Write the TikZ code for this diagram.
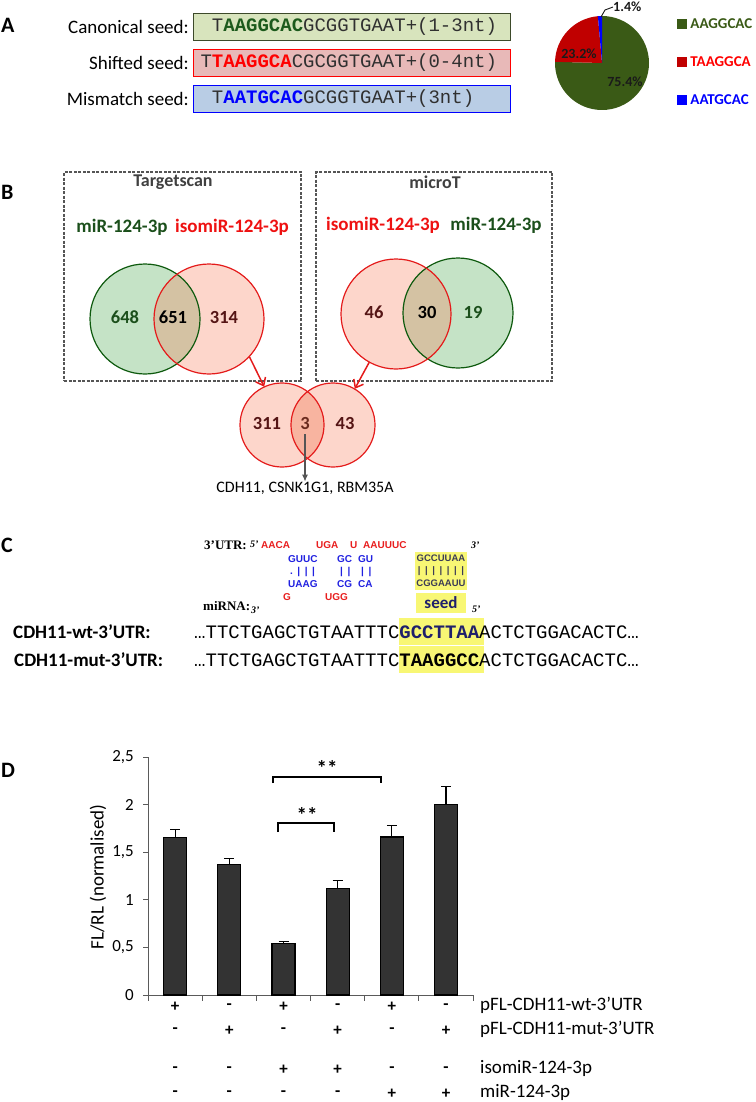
\documentclass[tikz,border=0pt]{standalone}
\usepackage{fontspec}
\setmainfont{Carlito}
\newfontfamily\seqfont{Liberation Mono}
\newfontfamily\rnafont{Liberation Sans}
\newfontfamily\utrfont{Liberation Serif}
\usetikzlibrary{arrows.meta,positioning}
\newcommand{\setfs}[1]{\fontsize{#1}{#1}\selectfont}
\definecolor{ink}{HTML}{1A1A1A}
\definecolor{seqgray}{HTML}{303030}
\definecolor{canfill}{HTML}{D8E4BD}
\definecolor{canline}{HTML}{3D4A2A}
\definecolor{seedgreen}{HTML}{1C5A1C}
\definecolor{shiftfill}{HTML}{E8B9B8}
\definecolor{mmfill}{HTML}{B9CDE5}
\definecolor{piegreen}{HTML}{3A5A16}
\definecolor{piered}{HTML}{C00000}
\definecolor{pieblue}{HTML}{0000FF}
\definecolor{vgfill}{HTML}{C5E3C6}
\definecolor{vgline}{HTML}{0E5A0E}
\definecolor{vrfill}{HTML}{FDD6CB}
\definecolor{vrline}{HTML}{E41B1B}
\definecolor{vmix}{HTML}{D4C2A3}
\definecolor{vrmix}{HTML}{F8B4A0}
\definecolor{numgreen}{HTML}{1B4F1B}
\definecolor{numred}{HTML}{551515}
\definecolor{isored}{HTML}{EE1111}
\definecolor{titlegray}{HTML}{404040}
\definecolor{dashgray}{HTML}{555555}
\definecolor{arrowgray}{HTML}{555555}
\definecolor{seedyellow}{HTML}{F8F774}
\definecolor{navy}{HTML}{1F1F6B}
\definecolor{duplexgray}{HTML}{3C3C55}
\definecolor{rnared}{HTML}{E81E1E}
\definecolor{rnablue}{HTML}{2020E0}
\definecolor{barfill}{HTML}{333333}
\definecolor{axisgray}{HTML}{5A5A5A}

\begin{document}
\begin{tikzpicture}[x=1pt, y=-1pt, >=Latex,
  every node/.style={inner sep=0pt},
  panel/.style={font=\bfseries\setfs{22}, anchor=west},
  rowlabel/.style={font=\setfs{19}, anchor=east},
  seqbox/.style={rectangle, anchor=west, minimum height=27pt, text width=303pt,
    inner xsep=7pt, align=left, line width=1.1pt, font=\seqfont\setfs{19}, text=seqgray},
  legsq/.style={rectangle, minimum size=10pt},
  legtxt/.style={anchor=west, font=\bfseries\setfs{15}},
  pielab/.style={font=\bfseries\setfs{14}, text=ink},
  dashbox/.style={draw=dashgray, dash pattern=on 3pt off 1.5pt, line width=1.1pt},
  boxtitle/.style={font=\bfseries\setfs{18}, text=titlegray},
  mirlab/.style={font=\bfseries\setfs{19}, text=numgreen},
  isolab/.style={font=\bfseries\setfs{19}, text=isored},
  vnum/.style={font=\bfseries\setfs{18.5}},
  greenset/.style={circle, minimum size=110pt, fill=vgfill},
  redset/.style={circle, minimum size=110pt, fill=vrfill},
  smallset/.style={circle, minimum size=84pt, fill=vrfill},
  redarrow/.style={-{Straight Barb[length=7pt,width=11pt]}, draw=vrline, line width=1.5pt},
  grayarrow/.style={-{Latex[length=7pt,width=6pt]}, draw=arrowgray, line width=1.1pt},
  utr/.style={anchor=west, font=\utrfont\bfseries\setfs{13}},
  prime/.style={anchor=west, font=\utrfont\bfseries\itshape\setfs{10}},
  rnaR/.style={anchor=west, font=\rnafont\bfseries\setfs{10}, text=rnared},
  rnaB/.style={anchor=west, font=\rnafont\bfseries\setfs{10}, text=rnablue},
  duplex/.style={font=\rnafont\bfseries\setfs{9.5}, text=duplexgray},
  seqlab/.style={anchor=west, font=\bfseries\setfs{19}},
  seqline/.style={anchor=west, font=\seqfont\setfs{19}},
  hilite/.style={fill=seedyellow, minimum width=85pt, minimum height=27pt},
  bar/.style={fill=barfill, draw=black, line width=1.1pt},
  errbar/.style={draw=black, line width=1.1pt},
  bracket/.style={draw=black, line width=2.4pt},
  stars/.style={font=\bfseries\setfs{21}},
  sign/.style={font=\bfseries\setfs{17}},
  condlab/.style={anchor=west, font=\setfs{19}}]
\useasboundingbox (0,0) rectangle (755,1102);

% panel A
\node[panel] (labA) at (1,25) {A};
\node[rowlabel] (canLab) at (189,27) {Canonical seed:};
\node[rowlabel] (shiftLab) at (189,63) {Shifted seed:};
\node[rowlabel] (mmLab) at (189,99) {Mismatch seed:};
\node[seqbox, draw=canline, fill=canfill] (canSeq) at (193,27)
  {\hspace*{11.4pt}T\textbf{\color{seedgreen}AAGGCAC}GCGGTGAAT+(1-3nt)};
\node[seqbox, draw=red, fill=shiftfill] (shiftSeq) at (193,63)
  {T\textbf{\color{red}TAAGGCA}CGCGGTGAAT+(0-4nt)};
\node[seqbox, draw=blue, fill=mmfill] (mmSeq) at (193,99)
  {\hspace*{11.4pt}T\textbf{\color{blue}AATGCAC}GCGGTGAAT+(3nt)};

\begin{scope}[shift={(602,63)}, y=1pt]
  \fill[piegreen] (0,0) -- (90:47pt) arc[start angle=90, end angle=-181.44, radius=47pt] -- cycle;
  \fill[piered] (0,0) -- (178.56:47pt) arc[start angle=178.56, end angle=95.04, radius=47pt] -- cycle;
  \fill[pieblue] (0,0) -- (95.04:47pt) arc[start angle=95.04, end angle=90, radius=47pt] -- cycle;
\end{scope}
\node[pielab] (p754) at (625,82) {75.4\%};
\node[pielab] (p232) at (579,54) {23.2\%};
\node[pielab, anchor=west] (p14) at (613,7) {1.4\%};
\coordinate (pieTop) at (601,17);
\draw[ink, line width=0.9pt] (pieTop) -- (605,10) -- (p14.west);

\node[legsq, fill=piegreen] (sqG) at (682,24) {};
\node[legtxt, text=piegreen, right=3pt of sqG] (legG) {AAGGCAC};
\node[legsq, fill=piered] (sqR) at (682,62) {};
\node[legtxt, text=red, right=3pt of sqR] (legR) {TAAGGCA};
\node[legsq, fill=pieblue] (sqB) at (682,100) {};
\node[legtxt, text=blue, right=3pt of sqB] (legB) {AATGCAC};

% panel B
\node[panel] (labB) at (1,192) {B};
\node[dashbox, minimum width=237pt, minimum height=209pt] (tsBox) at (182.5,276.5) {};
\node[dashbox, minimum width=236pt, minimum height=209pt] (mtBox) at (434,276.5) {};
\node[boxtitle] (tsTitle) at (173,182) {Targetscan};
\node[boxtitle] (mtTitle) at (435,182) {microT};
\node[mirlab] (tsMirLab) at (122,227) {miR-124-3p};
\node[isolab] (tsIsoLab) at (232,227) {isomiR-124-3p};
\node[isolab] (mtIsoLab) at (383,225) {isomiR-124-3p};
\node[mirlab] (mtMirLab) at (496,225) {miR-124-3p};

\node[greenset] (tsMir) at (145,319) {};
\node[redset] (tsIso) at (209,319) {};
\begin{scope}
  \clip (145,319) circle[radius=55pt];
  \fill[vmix] (209,319) circle[radius=55pt];
\end{scope}
\draw[vgline, line width=1.2pt] (tsMir.center) circle[radius=55pt];
\draw[vrline, line width=1.2pt] (tsIso.center) circle[radius=55pt];

\node[redset] (mtIso) at (396,314) {};
\node[greenset] (mtMir) at (458,313) {};
\begin{scope}
  \clip (458,313) circle[radius=55pt];
  \fill[vmix] (396,314) circle[radius=55pt];
\end{scope}
\draw[vgline, line width=1.2pt] (mtMir.center) circle[radius=55pt];
\draw[vrline, line width=1.2pt] (mtIso.center) circle[radius=55pt];

\node[vnum, text=numgreen] (n648) at (125,317) {648};
\node[vnum, text=black] (n651) at (173,317) {651};
\node[vnum, text=numred] (n314) at (224,317) {314};
\node[vnum, text=numred] (n46) at (374,312) {46};
\node[vnum, text=black] (n30) at (427,312) {30};
\node[vnum, text=numgreen] (n19) at (473,312) {19};

\node[smallset] (botL) at (282,425) {};
\node[smallset] (botR) at (333,425) {};
\begin{scope}
  \clip (282,425) circle[radius=42pt];
  \fill[vrmix] (333,425) circle[radius=42pt];
\end{scope}
\draw[vrline, line width=1.2pt] (botL.center) circle[radius=42pt];
\draw[vrline, line width=1.2pt] (botR.center) circle[radius=42pt];
\node[vnum, text=numred] (n311) at (267,423) {311};
\node[vnum, text=numred!80!brown] (n3) at (305,423) {3};
\node[vnum, text=numred] (n43) at (345,423) {43};

\draw[redarrow] (tsIso.-43) -- (botL.115);
\draw[redarrow] (mtIso.-119) -- (botR.59);
\node[font=\setfs{16}] (genes) at (305,488) {CDH11, CSNK1G1, RBM35A};
\draw[grayarrow] (n3.south) ++(0,5) coordinate (n3foot) (n3foot) -- (genes.north);

% panel C
\node[panel] (labC) at (1,545) {C};
\node[utr] (utrLab) at (204,545) {3’UTR:};
\node[prime] (utr5) at (250,544) {5’};
\node[rnaR] (r1a) at (261,545) {AACA};
\node[rnaR] (r1b) at (316,545) {UGA};
\node[rnaR] (r1c) at (350,545) {U};
\node[rnaR] (r1d) at (363,545) {AAUUUC};
\node[rnaB] (b2a) at (288,559) {GUUC};
\node[rnaB] (b2b) at (337,559) {GC};
\node[rnaB] (b2c) at (358,559) {GU};
\node[rnaB] (b3a) at (290,572) {.\hspace{4.5pt}|\hspace{4.5pt}|\hspace{4.5pt}|};
\node[rnaB] (b3b) at (340,572) {|\hspace{4.5pt}|};
\node[rnaB] (b3c) at (361,572) {|\hspace{4.5pt}|};
\node[rnaB] (b4a) at (288,584) {UAAG};
\node[rnaB] (b4b) at (337,584) {CG};
\node[rnaB] (b4c) at (358,584) {CA};
\node[rnaR] (r5a) at (283,597) {G};
\node[rnaR] (r5b) at (325,597) {UGG};
\node[utr] (mirnaLab) at (203,606) {miRNA:};
\node[prime] (mirna3) at (251,610) {3’};

\node[fill=seedyellow, minimum width=52pt, minimum height=38pt] (seedBox) at (441,571) {};
\node[duplex] (seedTop) at (441,558) {GCCUUAA};
\node[duplex] (seedBars) at (441,571) {|\hspace{4.6pt}|\hspace{4.6pt}|\hspace{4.6pt}|\hspace{4.6pt}|\hspace{4.6pt}|\hspace{4.6pt}|};
\node[duplex] (seedBot) at (441,583) {CGGAAUU};
\node[prime] (seed3) at (471,545) {3’};
\node[fill=seedyellow, minimum width=50pt, minimum height=20pt, text=navy,
  font=\bfseries\setfs{17}] (seedLab) at (441,603) {seed};
\node[prime] (seed5) at (472,609) {5’};

\node[seqlab] (wtLab) at (13,632) {CDH11-wt-3’UTR:};
\node[seqlab] (mutLab) at (14,660) {CDH11-mut-3’UTR:};
\node[hilite] (wtHl) at (441,631.5) {};
\node[hilite] (mutHl) at (441,659) {};
\node[seqline] (wtSeq) at (194,632) {…TTCTGAGCTGTAATTTC\textbf{\color{navy}GCCTTAA}ACTCTGGACACTC…};
\node[seqline] (mutSeq) at (194,660) {…TTCTGAGCTGTAATTTC\textbf{TAAGGCC}ACTCTGGACACTC…};

% panel D
\node[panel] (labD) at (1,770) {D};
\draw[axisgray, line width=1pt] (148,757) -- (148,995) -- (473,995);
\foreach \v/\t [count=\k] in {0/0, 0.5/{0,5}, 1/1, 1.5/{1,5}, 2/2, 2.5/{2,5}} {
  \draw[axisgray, line width=1pt] (143,995-95.2*\v) -- (148,995-95.2*\v);
  \node[anchor=east, font=\setfs{17}] (tick\k) at (134,995-95.2*\v) {\t};
}
\foreach \k in {0,...,6} \draw[axisgray, line width=1pt] (148+54.17*\k,995) -- ++(0,6);
\foreach \v/\e [count=\i] in {1.65/1.74, 1.37/1.43, 0.54/0.56, 1.12/1.20, 1.66/1.78, 2.00/2.19} {
  \pgfmathsetmacro{\xc}{121+54.17*\i}
  \draw[errbar] (\xc,995-95.2*\v) -- (\xc,995-95.2*\e) (\xc-5,995-95.2*\e) -- (\xc+5,995-95.2*\e);
  \draw[bar] (\xc-11.5,995) rectangle (\xc+11.5,995-95.2*\v);
}
\node[rotate=90, font=\setfs{19}] (yLab) at (98,877) {FL/RL (normalised)};

\draw[bracket] (278,832) -- (278,823) -- (334,823) -- (334,832);
\node[stars] (starsIn) at (307,815) {**};
\draw[bracket] (273,783) -- (273,777) -- (381,777) -- (381,783);
\node[stars] (starsOut) at (327,768) {**};

\foreach \s [count=\i] in {+,-,+,-,+,-} \node[sign] (sWt\i) at (121+54.17*\i,1007) {\s};
\foreach \s [count=\i] in {-,+,-,+,-,+} \node[sign] (sMut\i) at (121+54.17*\i,1031) {\s};
\foreach \s [count=\i] in {-,-,+,+,-,-} \node[sign] (sIso\i) at (121+54.17*\i,1070) {\s};
\foreach \s [count=\i] in {-,-,-,-,+,+} \node[sign] (sMir\i) at (121+54.17*\i,1094) {\s};
\node[condlab] (cWt) at (480,1005) {pFL-CDH11-wt-3’UTR};
\node[condlab] (cMut) at (480,1029) {pFL-CDH11-mut-3’UTR};
\node[condlab] (cIso) at (480,1068) {isomiR-124-3p};
\node[condlab] (cMir) at (480,1092) {miR-124-3p};
\end{tikzpicture}
\end{document}
